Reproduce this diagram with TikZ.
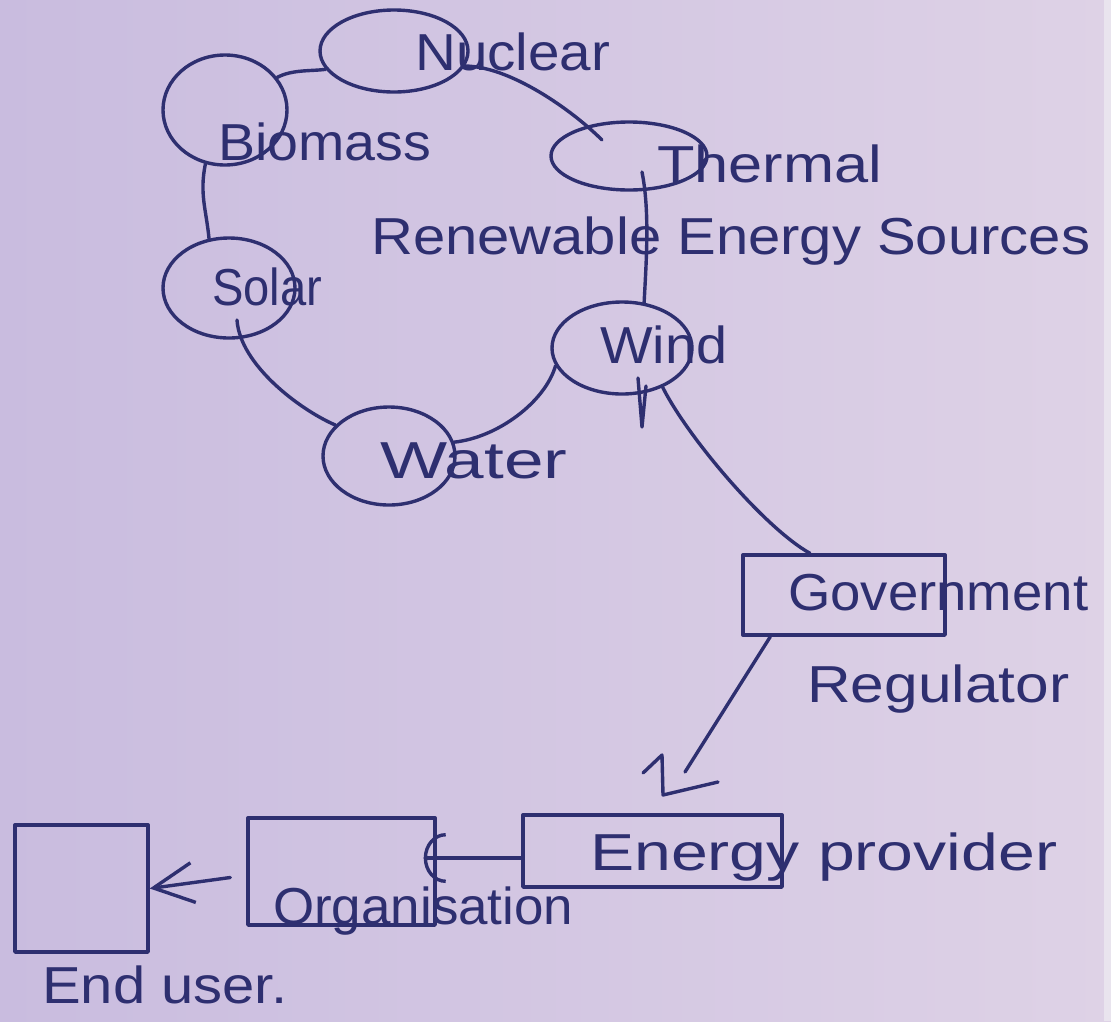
\documentclass[tikz,border=0pt]{standalone}
\usepackage{graphicx}
\usepackage{fontspec}
\setmainfont{Liberation Sans}
\usetikzlibrary{shapes.geometric,calc,arrows.meta}
\definecolor{ink}{HTML}{2E2F70}
\definecolor{paperL}{HTML}{C9BCDF}
\definecolor{paperR}{HTML}{DED2E6}
\definecolor{paperEdge}{HTML}{E9E4EE}
% stretch a label to a given width, keeping its height
\newcommand{\fitw}[2]{\resizebox{#1pt}{\height}{#2}}
\begin{document}
\begin{tikzpicture}[x=1pt,y=-1pt,
  pen/.style={draw=ink, line width=3.4pt, line cap=round, line join=round},
  source/.style={pen, ellipse, inner sep=0pt},
  box/.style={pen, rectangle, inner sep=0pt},
  lbl/.style={anchor=base west, inner sep=0pt, text=ink, font=\fontsize{52}{60}\selectfont},
]
% paper
\shade[left color=paperL, right color=paperR] (0,0) rectangle (1111,1021);
\fill[paperEdge] (1104,0) rectangle (1111,1021);
\useasboundingbox (0,0) rectangle (1111,1021);

% energy sources
\node[source, minimum width=148pt, minimum height=82pt]  (nuc)  at (394,51)  {};
\node[source, minimum width=124pt, minimum height=110pt] (bio)  at (225,110) {};
\node[source, minimum width=156pt, minimum height=68pt]  (thr)  at (629,156) {};
\node[source, minimum width=132pt, minimum height=100pt] (sol)  at (229,288) {};
\node[source, minimum width=140pt, minimum height=92pt]  (wind) at (622,348) {};
\node[source, minimum width=132pt, minimum height=98pt]  (wat)  at (389,456) {};

% chain of actors
\node[box, minimum width=202pt, minimum height=80pt]  (gov) at (844,595)     {};
\node[box, minimum width=259pt, minimum height=72pt]  (ep)  at (652.5,851)   {};
\node[box, minimum width=187pt, minimum height=107pt] (org) at (341.5,871.5) {};
\node[box, minimum width=133pt, minimum height=127pt] (eu)  at (81.5,888.5)  {};

% labels
\node[lbl] (tnuc)  at (415,70)   {\fitw{195}{Nuclear}};
\node[lbl] (tbio)  at (218,160)  {\fitw{213}{Biomass}};
\node[lbl] (tthr)  at (657,182)  {\fitw{225}{Thermal}};
\node[lbl] (tres)  at (371,254)  {\fitw{719}{Renewable Energy Sources}};
\node[lbl] (tsol)  at (212,305)  {\fitw{110}{Solar}};
\node[lbl] (twind) at (600,363)  {\fitw{127}{Wind}};
\node[lbl] (twat)  at (380,478)  {\fitw{187}{Water}};
\node[lbl] (tgov)  at (788,610)  {\fitw{300}{Government}};
\node[lbl] (treg)  at (807,702)  {\fitw{262}{Regulator}};
\node[lbl] (tep)   at (590,870)  {\fitw{467}{Energy provider}};
\node[lbl] (torg)  at (273,924)  {\fitw{300}{Organisation}};
\node[lbl] (teu)   at (42,1003)  {\fitw{245}{End user.}};

% ring of sources
\draw[pen] (bio.32) .. controls +(15,-8) and +(-15,2) .. (nuc.195);
\draw[pen] (nuc.-12) .. controls +(45,0) and +(-30,-30) .. ($(thr.center)+(-27,-16)$);
\draw[pen] (bio.-110) .. controls +(-6,30) and +(-3,-30) .. (sol.112);
\draw[pen] ($(thr.center)+(13,16)$) .. controls +(8,40) and +(2,-40) .. (wind.64);
\draw[pen] ($(sol.center)+(8,32)$) .. controls +(3,45) and +(-35,-15) .. (wat.150);
\draw[pen] (wat.12) .. controls +(45,-5) and +(-10,35) .. (wind.195);
\draw[pen] ($(wind.center)+(16,30)$) -- ($(wind.center)+(20,79)$) -- ($(wind.center)+(24,38)$);

% sources to regulator
\draw[pen] (wind.-44) .. controls +(25,50) and +(-45,-25) .. ($(gov.north)+(-34,0)$);

% regulator to provider, with hand-drawn head
\coordinate (gtip) at (663,795);
\draw[pen] ($(gov.south west)+(29,0)$) -- ($(gtip)+(22,-23)$);
\draw[pen] ($(gtip)+(-20,-22)$) -- ($(gtip)+(-1,-40)$) -- (gtip) -- ($(gtip)+(55,-13)$);

% provider to organisation to end user
\draw[pen, -{Arc Barb[length=22pt, width=50pt]}] ($(ep.west)+(0,7)$) -- ($(org.east)+(-13,-13.5)$);
\draw[pen, -{Straight Barb[length=40pt, width=40pt]}] ($(org.west)+(-16,6)$) -- (eu.east);
\end{tikzpicture}
\end{document}
